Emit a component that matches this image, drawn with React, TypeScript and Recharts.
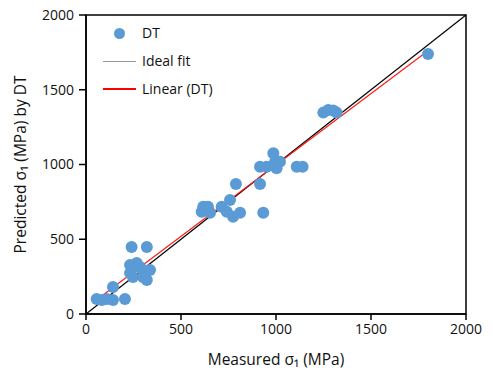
import React from 'react';
import { ScatterChart, Scatter, XAxis, YAxis, ReferenceLine, ReferenceArea, Label } from 'recharts';

// measured vs predicted sigma1 (MPa)
const measured = [
  56, 83, 109, 142, 142, 205,
  240, 320, 232, 267, 284, 232, 247, 300, 337, 300, 320,
  617, 642, 609, 653, 714, 758, 741, 774, 811, 789,
  916, 933, 916, 951, 986, 995, 1021, 1003, 1109, 1140,
  1249, 1275, 1301, 1319, 1800,
];
const predicted = [
  100, 94, 100, 94, 180, 100,
  448, 448, 328, 341, 314, 274, 247, 294, 294, 247, 227,
  718, 718, 684, 678, 718, 763, 684, 651, 678, 870,
  870, 678, 985, 985, 1075, 1019, 1019, 975, 985, 985,
  1347, 1365, 1361, 1347, 1739,
];

const ticks = [0, 500, 1000, 1500, 2000];

// linear trendline (DT): y = slope * x + intercept
const slope = 0.955;
const intercept = 42;
const fitStart = 56;
const fitEnd = 1800;

const points = measured.map((m, i) => ({ x: m, y: predicted[i] }));

const FONT = '"Open Sans", "Liberation Sans", sans-serif';

const LegendBox = () => (
  <div style={{ position: 'absolute', left: 103, top: 19, fontFamily: FONT, fontSize: 14, color: '#111', lineHeight: '28px' }}>
    <div style={{ display: 'flex', alignItems: 'center' }}>
      <span style={{ width: 33, display: 'inline-flex', justifyContent: 'center' }}>
        <span style={{ width: 11, height: 11, borderRadius: '50%', background: '#5B9BD5', display: 'inline-block' }} />
      </span>
      <span style={{ marginLeft: 6 }}>DT</span>
    </div>
    <div style={{ display: 'flex', alignItems: 'center' }}>
      <span style={{ width: 33, height: 1, background: '#9a9a9a', display: 'inline-block' }} />
      <span style={{ marginLeft: 6 }}>Ideal fit</span>
    </div>
    <div style={{ display: 'flex', alignItems: 'center' }}>
      <span style={{ width: 33, height: 2, background: '#ff0000', display: 'inline-block' }} />
      <span style={{ marginLeft: 6 }}>Linear (DT)</span>
    </div>
  </div>
);

export default function App() {
  return (
    <div style={{ position: 'absolute', left: 0, top: 0, width: 493, height: 381, background: '#fff' }}>
      <ScatterChart width={493} height={381} margin={{ top: 15, right: 27, left: 26, bottom: 27 }}>
        <XAxis
          type="number"
          dataKey="x"
          domain={[0, 2000]}
          ticks={ticks}
          height={40}
          tickSize={6}
          tickMargin={4}
          stroke="#000"
          strokeWidth={1.5}
          tick={{ fill: '#111', fontSize: 14, fontFamily: FONT }}
        >
          <Label value="Measured σ₁ (MPa)" position="insideBottom" offset={-11} style={{ fill: '#111', fontSize: 15.5, fontFamily: FONT }} />
        </XAxis>
        <YAxis
          type="number"
          dataKey="y"
          domain={[0, 2000]}
          ticks={ticks}
          width={60}
          tickSize={7}
          tickMargin={5}
          stroke="#000"
          strokeWidth={1.5}
          tick={{ fill: '#111', fontSize: 14, fontFamily: FONT }}
        >
          <Label value="Predicted σ₁ (MPa) by DT" angle={-90} position="insideLeft" offset={-6} style={{ fill: '#111', fontSize: 15.5, fontFamily: FONT, textAnchor: 'middle' }} />
        </YAxis>
        <ReferenceArea x1={0} x2={2000} y1={0} y2={2000} fill="none" stroke="#000" strokeWidth={1.5} />
        <Scatter data={points} fill="#5B9BD5" isAnimationActive={false} shape={(p: any) => <circle cx={p.cx} cy={p.cy} r={6} fill="#5B9BD5" />} />
        <ReferenceLine segment={[{ x: 0, y: 0 }, { x: 2000, y: 2000 }]} stroke="#000" strokeWidth={1.2} />
        <ReferenceLine
          segment={[
            { x: fitStart, y: slope * fitStart + intercept },
            { x: fitEnd, y: slope * fitEnd + intercept },
          ]}
          stroke="#ff1a1a"
          strokeWidth={1.2}
        />
      </ScatterChart>
      <LegendBox />
    </div>
  );
}
